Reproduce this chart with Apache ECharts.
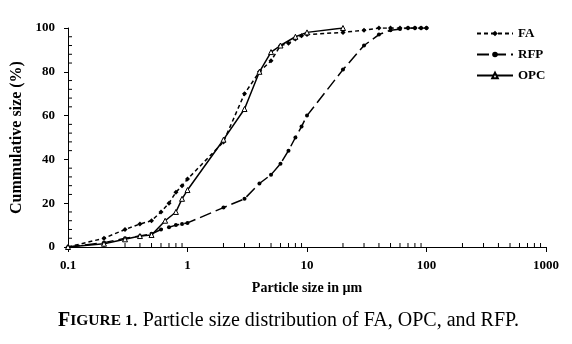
<!DOCTYPE html>
<html>
<head>
<meta charset="utf-8">
<script src="https://cdn.jsdelivr.net/npm/echarts@6/dist/echarts.min.js"></script>
<style>html,body{margin:0;padding:0;background:#fff;}#c{width:572px;height:344px;}</style>
</head>
<body>
<div id="c"></div>
<script>
const faX  = [0.1,0.2,0.3,0.4,0.5,0.6,0.7,0.8,0.9,1,2,3,4,5,6,7,8,9,10,20,30,40,50,60,70,80,90,100];
const faY  = [0,4,8,10.5,12,16,20,25,28,31,48,70,80,85,92,93,95,96.5,97,98,99,100,100,100,100,100,100,100];
const rfpX = [0.1,0.2,0.3,0.4,0.5,0.6,0.7,0.8,0.9,1,2,3,4,5,6,7,8,9,10,20,30,40,50,60,70,80,90,100];
const rfpY = [0,2,4,5,6,8,9,10,10.5,11,18,22,29,33,38,44,50,55,60,81,92,97,99,99.5,100,100,100,100];
const opcX = [0.1,0.2,0.3,0.4,0.5,0.65,0.8,0.9,1,2,3,4,5,6,8,10,20];
const opcY = [0,1.5,3.5,5,5.5,12,16,22,26,49,63,80,89,92,96,98,100];
const xMinorTicks = [0.2,0.3,0.4,0.5,0.6,0.7,0.8,0.9,2,3,4,5,6,7,8,9,20,30,40,50,60,70,80,90,200,300,400,500,600,700,800,900];
const yMinorTicks = [4,8,12,16,24,28,32,36,44,48,52,56,64,68,72,76,84,88,92,96];
const seriesNames = ['FA','RFP','OPC'];
const xTitle = 'Particle size in µm';
const yTitle = 'Cummulative size (%)';
const caption = ['F', 'IGURE 1', '. Particle size distribution of FA, OPC, and RFP.'];

const zip = (xs, ys) => xs.map((x, i) => [x, ys[i]]);
const serif = '"Liberation Serif", "DejaVu Serif", serif';

const chart = echarts.init(document.getElementById('c'), null, {renderer: 'canvas'});
chart.setOption({
  animation: false,
  backgroundColor: '#fff',
  grid: {left: 68, right: 26, top: 28, bottom: 97},
  legend: {
    data: seriesNames,
    orient: 'vertical',
    left: 471, top: 22,
    itemWidth: 36, itemHeight: 7, itemGap: 8,
    textStyle: {fontFamily: serif, fontWeight: 'bold', fontSize: 13, color: '#000'}
  },
  xAxis: {
    type: 'log', logBase: 10, min: 0.1, max: 1000,
    name: xTitle, nameLocation: 'middle', nameGap: 34,
    nameTextStyle: {fontFamily: serif, fontWeight: 'bold', fontSize: 14, color: '#000'},
    axisLine: {lineStyle: {color: '#000', width: 1}},
    axisTick: {length: 5, lineStyle: {color: '#000'}},
    axisLabel: {fontFamily: serif, fontWeight: 'bold', fontSize: 13, color: '#000', margin: 12,
      formatter: v => String(v)},
    splitLine: {show: false}
  },
  yAxis: {
    type: 'value', min: 0, max: 100, interval: 20,
    name: yTitle, nameLocation: 'middle', nameGap: 40,
    nameTextStyle: {fontFamily: serif, fontWeight: 'bold', fontSize: 16, color: '#000'},
    axisLine: {show: true, lineStyle: {color: '#000', width: 1}},
    axisTick: {show: true, length: 4, lineStyle: {color: '#000'}},
    axisLabel: {fontFamily: serif, fontWeight: 'bold', fontSize: 13, color: '#000', margin: 13},
    splitLine: {show: false}
  },
  series: [
    {
      name: 'FA', type: 'line', data: zip(faX, faY),
      symbol: 'diamond', symbolSize: 5,
      lineStyle: {color: '#000', width: 1.5, type: [4, 3]},
      itemStyle: {color: '#000'}
    },
    {
      name: 'RFP', type: 'line', data: zip(rfpX, rfpY),
      symbol: 'circle', symbolSize: 4,
      lineStyle: {color: '#000', width: 1.5, type: [12, 5]},
      itemStyle: {color: '#000'}
    },
    {
      name: 'OPC', type: 'line', data: zip(opcX, opcY),
      symbol: 'triangle', symbolSize: 5,
      lineStyle: {color: '#000', width: 1.5, type: 'solid'},
      itemStyle: {color: '#fff', borderColor: '#000', borderWidth: 1}
    },
    {
      type: 'custom', silent: true,
      data: xMinorTicks.map(v => [v, 0]),
      renderItem: (params, api) => {
        const p = api.coord([api.value(0), 0]);
        return {type: 'line', shape: {x1: p[0], y1: p[1], x2: p[0], y2: p[1] - 4},
          style: {stroke: '#000', lineWidth: 1}};
      }
    },
    {
      type: 'custom', silent: true,
      data: yMinorTicks.map(v => [0.1, v]),
      renderItem: (params, api) => {
        const p = api.coord([0.1, api.value(1)]);
        return {type: 'line', shape: {x1: p[0], y1: p[1], x2: p[0] + 4, y2: p[1]},
          style: {stroke: '#000', lineWidth: 1}};
      }
    }
  ],
  graphic: [{
    type: 'text', left: 58, top: 311, z: 10,
    style: {
      text: '{a|' + caption[0] + '}{b|' + caption[1] + '}{c|' + caption[2] + '}',
      rich: {
        a: {fontFamily: serif, fontSize: 20, fontWeight: 'bold', fill: '#000'},
        b: {fontFamily: serif, fontSize: 15.5, fontWeight: 'bold', fill: '#000'},
        c: {fontFamily: serif, fontSize: 20, fill: '#000'}
      }
    }
  }]
});
</script>
</body>
</html>
